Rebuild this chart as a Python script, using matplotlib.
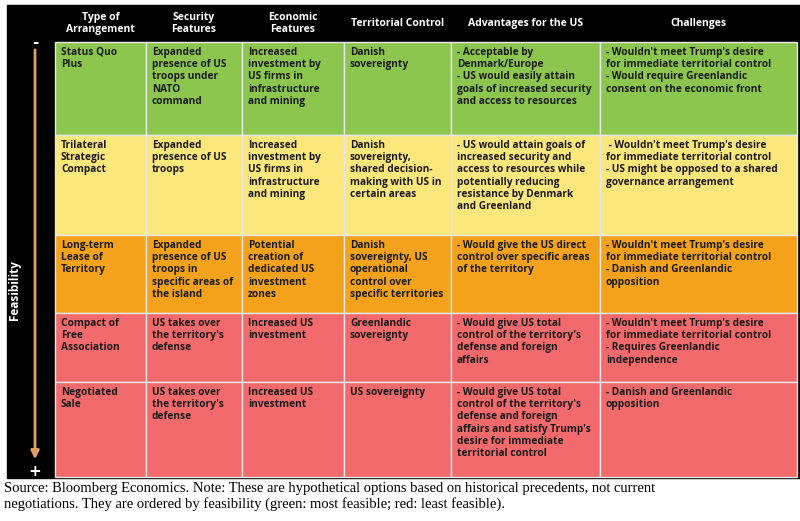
import matplotlib
matplotlib.use("Agg")
import matplotlib.pyplot as plt
from matplotlib.patches import Rectangle

headers = ["Type of\nArrangement", "Security\nFeatures", "Economic\nFeatures",
           "Territorial Control", "Advantages for the US", "Challenges"]

rows = [
    ["Status Quo\nPlus", "Expanded\npresence of US\ntroops under\nNATO\ncommand",
     "Increased\ninvestment by\nUS firms in\ninfrastructure\nand mining", "Danish\nsovereignty",
     "- Acceptable by\nDenmark/Europe\n- US would easily attain\ngoals of increased security\nand access to resources",
     "- Wouldn't meet Trump's desire\nfor immediate territorial control\n- Would require Greenlandic\nconsent on the economic front"],
    ["Trilateral\nStrategic\nCompact", "Expanded\npresence of US\ntroops",
     "Increased\ninvestment by\nUS firms in\ninfrastructure\nand mining",
     "Danish\nsovereignty,\nshared decision-\nmaking with US in\ncertain areas",
     "- US would attain goals of\nincreased security and\naccess to resources while\npotentially reducing\nresistance by Denmark\nand Greenland",
     " - Wouldn't meet Trump's desire\nfor immediate territorial control\n- US might be opposed to a shared\ngovernance arrangement"],
    ["Long-term\nLease of\nTerritory", "Expanded\npresence of US\ntroops in\nspecific areas of\nthe island",
     "Potential\ncreation of\ndedicated US\ninvestment\nzones",
     "Danish\nsovereignty, US\noperational\ncontrol over\nspecific territories",
     "- Would give the US direct\ncontrol over specific areas\nof the territory",
     "- Wouldn't meet Trump's desire\nfor immediate territorial control\n- Danish and Greenlandic\nopposition"],
    ["Compact of\nFree\nAssociation", "US takes over\nthe territory's\ndefense", "Increased US\ninvestment",
     "Greenlandic\nsovereignty",
     "- Would give US total\ncontrol of the territory's\ndefense and foreign\naffairs",
     "- Wouldn't meet Trump's desire\nfor immediate territorial control\n- Requires Greenlandic\nindependence"],
    ["Negotiated\nSale", "US takes over\nthe territory's\ndefense", "Increased US\ninvestment",
     "US sovereignty",
     "- Would give US total\ncontrol of the territory's\ndefense and foreign\naffairs and satisfy Trump's\ndesire for immediate\nterritorial control",
     "- Danish and Greenlandic\nopposition"],
]
row_colors = ["#8dc64f", "#fce77d", "#f4a21c", "#f26a6b", "#f26a6b"]

caption = ("Source: Bloomberg Economics. Note: These are hypothetical options based on historical precedents, not current\n"
           "negotiations. They are ordered by feasibility (green: most feasible; red: least feasible).")

# layout in pixels
col_x = [55, 146, 242, 344, 451, 600, 797]
row_y = [5, 42, 135, 235, 313, 382, 477]

fig = plt.figure(figsize=(8, 5.21), dpi=100)
ax = fig.add_axes([0, 0, 1, 1])
ax.set_xlim(0, 800)
ax.set_ylim(521, 0)
ax.axis("off")

ax.add_patch(Rectangle((7, 5), 793, 473, color="black"))
font = "Open Sans"
for j, h in enumerate(headers):
    ax.text((col_x[j] + col_x[j + 1]) / 2, (row_y[0] + row_y[1]) / 2, h, color="white",
            ha="center", va="center", fontsize=7.5, fontweight="bold", family=font, linespacing=1.1)
for i, r in enumerate(rows):
    y0, y1 = row_y[i + 1], row_y[i + 2]
    for j, txt in enumerate(r):
        x0, x1 = col_x[j], col_x[j + 1]
        ax.add_patch(Rectangle((x0, y0), x1 - x0, y1 - y0, facecolor=row_colors[i],
                               edgecolor="#e8e8e8", lw=1))
        ax.text(x0 + 6, y0 + 5, txt, ha="left", va="top", fontsize=7.3, fontweight="bold",
                family=font, color="#1a1a1a", linespacing=1.15)

# feasibility arrow
ax.annotate("", xy=(35, 462), xytext=(35, 47),
            arrowprops=dict(arrowstyle="-|>", color="#e0a060", lw=2, mutation_scale=12))
ax.text(35, 42, "-", color="white", ha="center", va="center", fontsize=11, fontweight="bold")
ax.text(35, 472, "+", color="white", ha="center", va="center", fontsize=11, fontweight="bold")
ax.text(15, 290, "Feasibility", color="white", rotation=90, ha="center", va="center",
        fontsize=8.5, fontweight="bold", family=font)

ax.text(4, 482, caption, ha="left", va="top", fontsize=10.5, family="Liberation Serif",
        linespacing=1.2)

fig.savefig("out.png", dpi=100)
